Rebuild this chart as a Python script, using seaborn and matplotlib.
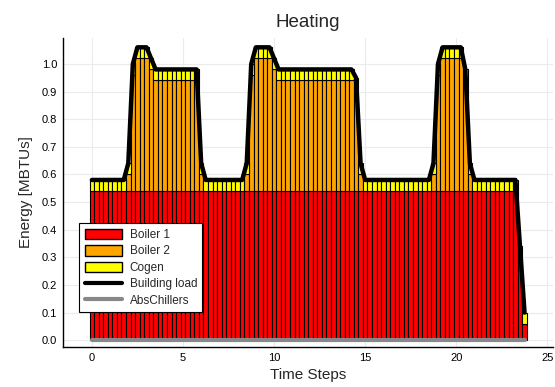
import numpy as np
import matplotlib
matplotlib.use("Agg")
import matplotlib.pyplot as plt
import seaborn as sns
from matplotlib.patches import Patch
from matplotlib.lines import Line2D

# 15 minute time steps over one day
time_steps = np.arange(96) * 0.25

# building heating load [MBTUs], one row = 2 hours
building_load = [
    0.58, 0.58, 0.58, 0.58, 0.58, 0.58, 0.58, 0.58,
    0.64, 1.00, 1.06, 1.06, 1.06, 1.02, 0.98, 0.98,
    0.98, 0.98, 0.98, 0.98, 0.98, 0.98, 0.98, 0.98,
    0.64, 0.58, 0.58, 0.58, 0.58, 0.58, 0.58, 0.58,
    0.58, 0.58, 0.64, 1.00, 1.06, 1.06, 1.06, 1.06,
    1.02, 0.98, 0.98, 0.98, 0.98, 0.98, 0.98, 0.98,
    0.98, 0.98, 0.98, 0.98, 0.98, 0.98, 0.98, 0.98,
    0.98, 0.98, 0.95, 0.64, 0.58, 0.58, 0.58, 0.58,
    0.58, 0.58, 0.58, 0.58, 0.58, 0.58, 0.58, 0.58,
    0.58, 0.58, 0.58, 0.64, 1.00, 1.06, 1.06, 1.06,
    1.06, 1.06, 0.98, 0.64, 0.58, 0.58, 0.58, 0.58,
    0.58, 0.58, 0.58, 0.58, 0.58, 0.58, 0.34, 0.10,
]

boiler1 = [
    0.54, 0.54, 0.54, 0.54, 0.54, 0.54, 0.54, 0.54,
    0.54, 0.54, 0.54, 0.54, 0.54, 0.54, 0.54, 0.54,
    0.54, 0.54, 0.54, 0.54, 0.54, 0.54, 0.54, 0.54,
    0.54, 0.54, 0.54, 0.54, 0.54, 0.54, 0.54, 0.54,
    0.54, 0.54, 0.54, 0.54, 0.54, 0.54, 0.54, 0.54,
    0.54, 0.54, 0.54, 0.54, 0.54, 0.54, 0.54, 0.54,
    0.54, 0.54, 0.54, 0.54, 0.54, 0.54, 0.54, 0.54,
    0.54, 0.54, 0.54, 0.54, 0.54, 0.54, 0.54, 0.54,
    0.54, 0.54, 0.54, 0.54, 0.54, 0.54, 0.54, 0.54,
    0.54, 0.54, 0.54, 0.54, 0.54, 0.54, 0.54, 0.54,
    0.54, 0.54, 0.54, 0.54, 0.54, 0.54, 0.54, 0.54,
    0.54, 0.54, 0.54, 0.54, 0.54, 0.54, 0.30, 0.06,
]

boiler2 = [
    0.00, 0.00, 0.00, 0.00, 0.00, 0.00, 0.00, 0.00,
    0.06, 0.42, 0.48, 0.48, 0.48, 0.44, 0.40, 0.40,
    0.40, 0.40, 0.40, 0.40, 0.40, 0.40, 0.40, 0.40,
    0.06, 0.00, 0.00, 0.00, 0.00, 0.00, 0.00, 0.00,
    0.00, 0.00, 0.06, 0.42, 0.48, 0.48, 0.48, 0.48,
    0.44, 0.40, 0.40, 0.40, 0.40, 0.40, 0.40, 0.40,
    0.40, 0.40, 0.40, 0.40, 0.40, 0.40, 0.40, 0.40,
    0.40, 0.40, 0.37, 0.06, 0.00, 0.00, 0.00, 0.00,
    0.00, 0.00, 0.00, 0.00, 0.00, 0.00, 0.00, 0.00,
    0.00, 0.00, 0.00, 0.06, 0.42, 0.48, 0.48, 0.48,
    0.48, 0.48, 0.40, 0.06, 0.00, 0.00, 0.00, 0.00,
    0.00, 0.00, 0.00, 0.00, 0.00, 0.00, 0.00, 0.00,
]

cogen = [
    0.04, 0.04, 0.04, 0.04, 0.04, 0.04, 0.04, 0.04,
    0.04, 0.04, 0.04, 0.04, 0.04, 0.04, 0.04, 0.04,
    0.04, 0.04, 0.04, 0.04, 0.04, 0.04, 0.04, 0.04,
    0.04, 0.04, 0.04, 0.04, 0.04, 0.04, 0.04, 0.04,
    0.04, 0.04, 0.04, 0.04, 0.04, 0.04, 0.04, 0.04,
    0.04, 0.04, 0.04, 0.04, 0.04, 0.04, 0.04, 0.04,
    0.04, 0.04, 0.04, 0.04, 0.04, 0.04, 0.04, 0.04,
    0.04, 0.04, 0.04, 0.04, 0.04, 0.04, 0.04, 0.04,
    0.04, 0.04, 0.04, 0.04, 0.04, 0.04, 0.04, 0.04,
    0.04, 0.04, 0.04, 0.04, 0.04, 0.04, 0.04, 0.04,
    0.04, 0.04, 0.04, 0.04, 0.04, 0.04, 0.04, 0.04,
    0.04, 0.04, 0.04, 0.04, 0.04, 0.04, 0.04, 0.04,
]

abs_chillers = [0.0] * 96

sns.set_theme(style="whitegrid")
plt.rcParams["font.family"] = ["Liberation Sans", "DejaVu Sans"]

fig = plt.figure(figsize=(5.55, 3.87), dpi=100)
ax = fig.add_axes([0.113, 0.103, 0.883, 0.799])

b1 = np.array(boiler1)
b2 = np.array(boiler2)
cg = np.array(cogen)

ax.bar(time_steps, b1, width=0.25, color="#ff0000", edgecolor="black", linewidth=0.8, zorder=2)
ax.bar(time_steps, b2, width=0.25, bottom=b1, color="#ffa500", edgecolor="black", linewidth=0.8, zorder=2)
ax.bar(time_steps, cg, width=0.25, bottom=b1 + b2, color="#ffff00", edgecolor="black", linewidth=0.8, zorder=2)

sns.lineplot(x=time_steps, y=building_load, color="black", linewidth=3.2, ax=ax, zorder=3)
sns.lineplot(x=time_steps, y=abs_chillers, color="#888888", linewidth=3, ax=ax, zorder=3)

ax.set_xlim(-1.6, 25.3)
ax.set_ylim(-0.025, 1.094)
ax.set_xticks([0, 5, 10, 15, 20, 25])
ax.set_yticks(np.arange(0, 11) / 10)
ax.set_yticklabels([f"{v:.1f}" for v in np.arange(0, 11) / 10])

ax.grid(True, color="#ebebeb", linewidth=0.8)
ax.set_facecolor("white")
for side in ["top", "right"]:
    ax.spines[side].set_visible(False)
for side in ["left", "bottom"]:
    ax.spines[side].set_color("black")
    ax.spines[side].set_linewidth(1.0)
ax.tick_params(axis="both", direction="in", length=4, width=0.8, color="black",
               labelsize=8, labelcolor="black", pad=4)

ax.set_title("Heating", fontsize=13.5, pad=8)
ax.set_xlabel("Time Steps", fontsize=11, labelpad=4)
ax.set_ylabel("Energy [MBTUs]", fontsize=11, labelpad=6)

handles = [
    Patch(facecolor="#ff0000", edgecolor="black", label="Boiler 1"),
    Patch(facecolor="#ffa500", edgecolor="black", label="Boiler 2"),
    Patch(facecolor="#ffff00", edgecolor="black", label="Cogen"),
    Line2D([0], [0], color="black", linewidth=3, label="Building load"),
    Line2D([0], [0], color="#888888", linewidth=3, label="AbsChillers"),
]
leg = ax.legend(handles=handles, loc="lower left", bbox_to_anchor=(0.022, 0.094),
                fontsize=8.5, frameon=True, fancybox=False, framealpha=1,
                handlelength=3.2, handleheight=1.0, borderpad=0.45, labelspacing=0.35,
                handletextpad=0.6)
leg.get_frame().set_edgecolor("black")
leg.get_frame().set_linewidth(0.8)

fig.savefig("out.png", dpi=100)
